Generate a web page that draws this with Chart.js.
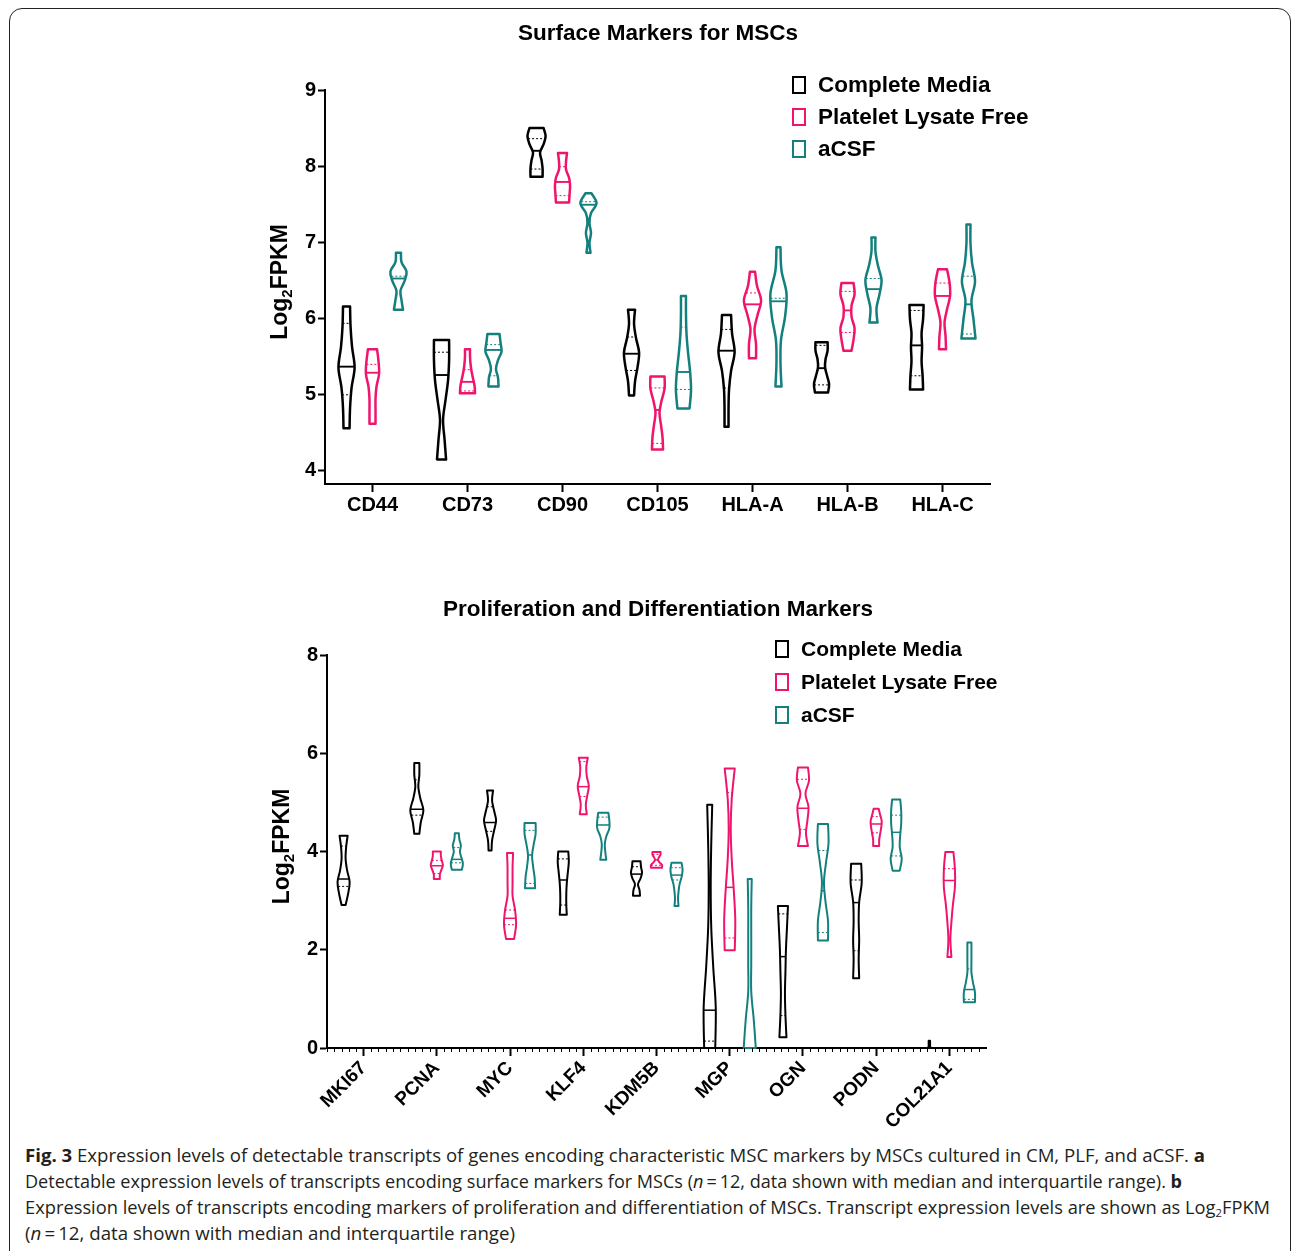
<!DOCTYPE html>
<html>
<head>
<meta charset="utf-8">
<script src="https://cdn.jsdelivr.net/npm/chart.js@4.4.1/dist/chart.umd.min.js"></script>
<style>
  html, body { margin: 0; padding: 0; background: #fff; width: 1292px; height: 1251px; overflow: hidden; }
  #frame { position: absolute; left: 9px; top: 8px; width: 1282px; height: 1300px; border: 1.5px solid #222; border-radius: 13px; box-sizing: border-box; }
  .panel { position: absolute; left: 258px; width: 800px; }
  #caption { position: absolute; left: 25px; top: 1142px; font-family: "Open Sans", "Noto Sans", sans-serif; font-size: 18px; line-height: 26px; color: #231f20; }
  #caption .ln { white-space: nowrap; }
  #caption .ln span { display: inline-block; transform-origin: 0 50%; }
  #caption sub { font-size: 11px; vertical-align: -3px; line-height: 0; }
</style>
</head>
<body>
<div id="frame"></div>
<div class="panel" style="top:12px;height:540px"><canvas id="surface"></canvas></div>
<div class="panel" style="top:580px;height:555px"><canvas id="prolif"></canvas></div>
<div id="caption">
  <div class="ln"><span data-w="1180"><b>Fig. 3</b> Expression levels of detectable transcripts of genes encoding characteristic MSC markers by MSCs cultured in CM, PLF, and aCSF. <b>a</b></span></div>
  <div class="ln"><span data-w="1157">Detectable expression levels of transcripts encoding surface markers for MSCs (<i>n</i>&#8201;=&#8201;12, data shown with median and interquartile range). <b>b</b></span></div>
  <div class="ln"><span data-w="1245">Expression levels of transcripts encoding markers of proliferation and differentiation of MSCs. Transcript expression levels are shown as Log<sub>2</sub>FPKM</span></div>
  <div class="ln"><span data-w="490">(<i>n</i>&#8201;=&#8201;12, data shown with median and interquartile range)</span></div>
</div>
<script>
// series names and colours
const seriesLabels = ["Complete Media", "Platelet Lysate Free", "aCSF"];
const seriesColors = ["#000000", "#f0146c", "#13807e"];

// ---- panel a: surface markers ----
const surfaceCategories = ["CD44", "CD73", "CD90", "CD105", "HLA-A", "HLA-B", "HLA-C"];
const surfaceTicks = [4, 5, 6, 7, 8, 9];

// [min, q1, median, q3, max] in Log2FPKM (null = quartile line not visible)
const surfaceCM = [
  [4.55, 4.99, 5.36, 5.93, 6.15],
  [4.14, null, 5.25, 5.55, 5.71],
  [7.86, 7.96, 8.20, 8.36, 8.50],
  [4.98, 5.31, 5.53, 5.75, 6.11],
  [4.57, 5.08, 5.57, 5.85, 6.04],
  [5.02, 5.12, 5.34, 5.64, 5.68],
  [5.06, 5.24, 5.64, 6.10, 6.17],
];
const surfacePLF = [
  [4.61, null, 5.28, 5.39, 5.59],
  [5.01, 5.04, 5.16, 5.32, 5.59],
  [7.52, 7.61, 7.79, 7.99, 8.17],
  [4.27, 4.35, 4.79, 5.08, 5.23],
  [5.47, null, 6.18, 6.33, 6.61],
  [5.57, 5.81, 6.10, 6.35, 6.46],
  [5.59, null, 6.29, 6.46, 6.64],
];
const surfaceACSF = [
  [6.11, null, 6.52, 6.55, 6.86],
  [5.10, 5.24, 5.58, 5.65, 5.79],
  [6.86, null, 7.49, 7.53, 7.64],
  [4.81, 5.06, 5.29, 5.88, 6.29],
  [5.10, null, 6.22, 6.26, 6.93],
  [5.94, null, 6.38, 6.52, 7.06],
  [5.73, 5.79, 6.18, 6.55, 7.23],
];
// violin density read at 7 even levels from min (first) to max (last)
const surfaceCMDensity = [
  [6, 7, 10, 16, 11, 8, 7],
  [9, 6, 3, 8, 13, 15, 15],
  [12, 12, 10, 7, 14, 18, 14],
  [5, 7, 12, 15, 9, 5, 7],
  [4, 4, 5, 9, 16, 11, 9],
  [13, 15, 11, 7, 8, 12, 12],
  [13, 12, 10, 11, 10, 13, 14],
];
const surfacePLFDensity = [
  [6, 6, 6, 8, 13, 12, 9],
  [15, 14, 11, 8, 6, 5, 5],
  [13, 14, 15, 13, 7, 7, 9],
  [11, 10, 7, 4, 8, 14, 14],
  [7, 7, 4, 10, 17, 9, 5],
  [8, 12, 14, 8, 8, 14, 12],
  [7, 6, 4, 9, 15, 14, 9],
];
const surfaceACSFDensity = [
  [9, 6, 4, 12, 16, 6, 5],
  [10, 9, 5, 9, 16, 14, 12],
  [4, 2, 5, 2, 5, 16, 6],
  [12, 15, 13, 9, 6, 5, 5],
  [6, 4, 5, 13, 16, 6, 4],
  [8, 6, 12, 16, 9, 4, 4],
  [14, 10, 6, 13, 7, 4, 4],
];

// ---- panel b: proliferation / differentiation markers ----
const prolifCategories = ["MKI67", "PCNA", "MYC", "KLF4", "KDM5B", "MGP", "OGN", "PODN", "COL21A1"];
const prolifTicks = [0, 2, 4, 6, 8];

const prolifCM = [
  [2.91, 3.29, 3.44, 4.11, 4.32],
  [4.36, 4.74, 4.86, 5.46, 5.80],
  [4.02, 4.41, 4.59, 4.91, 5.24],
  [2.71, 2.91, 3.42, 3.85, 4.00],
  [3.10, null, 3.54, 3.69, 3.80],
  [0.00, 0.14, 0.77, null, 4.95],
  [0.22, 0.66, 1.86, 2.73, 2.89],
  [1.42, 1.98, 2.96, 3.42, 3.75],
  [0.00, null, 0.03, null, 0.15],
];
const prolifPLF = [
  null,
  [3.44, 3.55, 3.71, 3.82, 4.00],
  [2.22, 2.51, 2.64, 2.81, 3.97],
  [4.76, 5.12, 5.32, 5.83, 5.91],
  [3.67, 3.72, 3.83, 3.94, 3.99],
  [1.99, 2.24, 3.27, 5.20, 5.69],
  [4.11, 4.45, 4.88, 5.47, 5.71],
  [4.11, 4.38, 4.56, 4.71, 4.87],
  [1.85, null, 3.41, 3.65, 3.99],
];
const prolifACSF = [
  null,
  [3.63, 3.77, 3.84, 4.08, 4.37],
  [3.25, 3.35, 3.93, 4.43, 4.58],
  [3.83, null, 4.54, 4.70, 4.79],
  [2.89, 3.42, 3.52, 3.67, 3.77],
  [0.00, null, 0.00, null, 3.44],
  [2.19, 2.35, 3.20, 4.02, 4.56],
  [3.61, 3.91, 4.39, 4.74, 5.06],
  [0.93, 0.99, 1.19, 1.61, 2.15],
];
const prolifCMDensity = [
  [4, 9, 12, 7, 4, 5, 8],
  [5, 8, 13, 7, 3, 5, 5],
  [3, 4, 8, 12, 8, 4, 6],
  [7, 6, 6, 7, 9, 11, 10],
  [7, 6, 3, 8, 11, 9, 8],
  [11, 12, 7, 3, 2, 3, 5],
  [7, 5, 4, 5, 6, 8, 10],
  [6, 5, 6, 5, 6, 11, 10],
  [4, 1, 1, 1, 1, 1, 1],
];
const prolifPLFDensity = [
  null,
  [6, 6, 9, 12, 10, 8, 8],
  [8, 12, 10, 5, 5, 5, 6],
  [7, 5, 8, 11, 7, 6, 9],
  [11, 11, 6, 3, 5, 8, 8],
  [10, 11, 8, 4, 2, 4, 10],
  [10, 6, 9, 11, 5, 12, 10],
  [6, 6, 8, 10, 11, 8, 5],
  [4, 2, 4, 7, 11, 11, 8],
];
const prolifACSFDensity = [
  null,
  [10, 12, 9, 6, 8, 5, 4],
  [10, 9, 6, 4, 7, 11, 11],
  [6, 4, 3, 6, 12, 12, 10],
  [4, 3, 4, 6, 10, 12, 10],
  [12, 8, 3, 3, 3, 3, 4],
  [10, 10, 5, 2, 6, 11, 10],
  [7, 11, 7, 8, 10, 10, 8],
  [11, 11, 7, 4, 4, 4, 4],
];

const FONT = '"Liberation Sans", Arial, Helvetica, sans-serif';

// smooth curve through points (Catmull-Rom as bezier)
function curveThrough(ctx, P) {
  for (let k = 0; k < P.length - 1; k++) {
    const p0 = P[k - 1] || P[k], p1 = P[k], p2 = P[k + 1], p3 = P[k + 2] || P[k + 1];
    ctx.bezierCurveTo(
      p1.x + (p2.x - p0.x) / 6, p1.y + (p2.y - p0.y) / 6,
      p2.x - (p3.x - p1.x) / 6, p2.y - (p3.y - p1.y) / 6,
      p2.x, p2.y
    );
  }
}

const violinPlugin = {
  id: "violins",
  afterDatasetsDraw(chart, args, opts) {
    const ctx = chart.ctx;
    const yScale = chart.scales.y;
    ctx.save();
    chart.data.datasets.forEach((ds, di) => {
      const meta = chart.getDatasetMeta(di);
      meta.data.forEach((bar, i) => {
        const stats = ds.stats[i];
        const dens = ds.density[i];
        if (!stats || !dens) return;
        const [lo, q1, med, q3, hi] = stats;
        const cx = bar.x;
        const full = bar.width * opts.widthFraction;
        const n = dens.length;
        const pts = dens.map((d, k) => ({
          y: yScale.getPixelForValue(lo + (hi - lo) * k / (n - 1)),
          h: Math.max(d / opts.densityMax * full / 2, 0.7),
        }));
        const halfAt = (v) => {
          const f = Math.min(Math.max((v - lo) / (hi - lo), 0), 1) * (n - 1);
          const k = Math.min(Math.floor(f), n - 2);
          return pts[k].h + (pts[k + 1].h - pts[k].h) * (f - k);
        };
        const R = pts.map((p) => ({ x: cx + p.h, y: p.y }));
        const L = pts.map((p) => ({ x: cx - p.h, y: p.y })).reverse();
        ctx.strokeStyle = ds.borderColor;
        ctx.lineJoin = "round";
        ctx.lineWidth = opts.lineWidth;
        ctx.setLineDash([]);
        ctx.beginPath();
        ctx.moveTo(L[n - 1].x, L[n - 1].y);
        ctx.lineTo(R[0].x, R[0].y);
        curveThrough(ctx, R);
        ctx.lineTo(L[0].x, L[0].y);
        curveThrough(ctx, L);
        ctx.closePath();
        ctx.stroke();

        // median (solid)
        const ym = yScale.getPixelForValue(med);
        const hm = halfAt(med);
        ctx.lineWidth = opts.lineWidth * 0.75;
        ctx.beginPath();
        ctx.moveTo(cx - hm, ym);
        ctx.lineTo(cx + hm, ym);
        ctx.stroke();

        // quartiles (dotted)
        ctx.lineWidth = 1;
        ctx.setLineDash([2, 2]);
        [q1, q3].forEach((q) => {
          if (q === null) return;
          const yq = yScale.getPixelForValue(q);
          const hq = halfAt(q);
          ctx.beginPath();
          ctx.moveTo(cx - hq, yq);
          ctx.lineTo(cx + hq, yq);
          ctx.stroke();
        });
        ctx.setLineDash([]);
      });
    });
    ctx.restore();
  },
};

// title centred on the canvas (not on the padded box)
const panelTitle = {
  id: "panelTitle",
  afterDraw(chart, args, opts) {
    const { ctx } = chart;
    ctx.save();
    ctx.font = "bold " + opts.size + "px " + FONT;
    ctx.fillStyle = "#000";
    ctx.textAlign = "center";
    ctx.textBaseline = "middle";
    ctx.fillText(opts.text, chart.width / 2, opts.y);
    ctx.restore();
  },
};

const boxLegend = {
  id: "boxLegend",
  afterDraw(chart, args, opts) {
    const { ctx, chartArea } = chart;
    ctx.save();
    ctx.font = "bold " + opts.size + "px " + FONT;
    ctx.textBaseline = "middle";
    ctx.textAlign = "left";
    chart.data.datasets.forEach((ds, i) => {
      const x = chartArea.right - opts.right;
      const y = chartArea.top + opts.top + i * opts.rowGap;
      ctx.strokeStyle = ds.borderColor;
      ctx.lineWidth = 2;
      ctx.strokeRect(x, y - 8, 12, 16);
      ctx.fillStyle = "#000";
      ctx.fillText(ds.label, x + 25, y + 1);
    });
    ctx.restore();
  },
};

const yTitle = {
  id: "yTitle",
  afterDraw(chart, args, opts) {
    const { ctx, chartArea } = chart;
    const main = "bold 23px " + FONT;
    const small = "bold 15px " + FONT;
    ctx.save();
    ctx.font = main;
    const w1 = ctx.measureText("Log").width;
    const w3 = ctx.measureText("FPKM").width;
    ctx.font = small;
    const w2 = ctx.measureText("2").width;
    const total = w1 + w2 + w3;
    ctx.translate(chartArea.left - 38, (chartArea.top + chartArea.bottom) / 2 - 5);
    ctx.rotate(-Math.PI / 2);
    ctx.fillStyle = "#000";
    ctx.textBaseline = "alphabetic";
    ctx.textAlign = "left";
    let x = -total / 2;
    ctx.font = main;
    ctx.fillText("Log", x, 0);
    x += w1;
    ctx.font = small;
    ctx.fillText("2", x, 5);
    x += w2;
    ctx.font = main;
    ctx.fillText("FPKM", x, 0);
    ctx.restore();
  },
};

// small ticks between the category ticks (panel b)
const minorTicks = {
  id: "minorTicks",
  afterDraw(chart, args, opts) {
    if (!opts.count) return;
    const { ctx } = chart;
    const xs = chart.scales.x;
    ctx.save();
    ctx.strokeStyle = "#000";
    ctx.lineWidth = 1;
    ctx.beginPath();
    for (let i = 0; i < chart.data.labels.length; i++) {
      for (let k = 0; k < opts.count; k++) {
        if (k === opts.count / 2) continue;
        const px = Math.round(xs.getPixelForValue(i - 0.5 + k / opts.count)) + 0.5;
        ctx.moveTo(px, xs.top);
        ctx.lineTo(px, xs.top + 4);
      }
    }
    ctx.stroke();
    ctx.restore();
  },
};

function makeDatasets(statsList, densList) {
  return seriesLabels.map((label, s) => ({
    label: label,
    data: statsList[s].map((st) => (st ? [st[0], st[4]] : null)),
    stats: statsList[s],
    density: densList[s],
    borderColor: seriesColors[s],
    backgroundColor: "rgba(0,0,0,0)",
    borderWidth: 0,
  }));
}

function makeChart(canvasId, cfg) {
  return new Chart(document.getElementById(canvasId), {
    type: "bar",
    data: {
      labels: cfg.labels,
      datasets: makeDatasets(cfg.stats, cfg.density),
    },
    options: {
      responsive: true,
      maintainAspectRatio: false,
      animation: false,
      events: [],
      datasets: { bar: { categoryPercentage: 0.82, barPercentage: 1 } },
      layout: { padding: { left: 0, right: cfg.padRight, top: cfg.padTop, bottom: 0 } },
      plugins: {
        legend: { display: false },
        tooltip: { enabled: false },
        title: { display: false },
        panelTitle: { text: cfg.title, y: cfg.titleY, size: 22.5 },
        violins: { widthFraction: 0.68, densityMax: cfg.densityMax, lineWidth: cfg.lineWidth },
        boxLegend: cfg.legend,
        minorTicks: { count: cfg.minor },
      },
      scales: {
        x: {
          offset: true,
          afterFit: (scale) => { scale.height = cfg.xHeight; },
          border: { display: true, color: "#000", width: 2 },
          grid: { offset: false, drawOnChartArea: false, drawTicks: true, tickLength: 8, tickWidth: 2, tickColor: "#000" },
          ticks: {
            color: "#000",
            font: { family: FONT, size: cfg.xFont, weight: "bold" },
            padding: 1,
            minRotation: cfg.rotation,
            maxRotation: cfg.rotation,
            autoSkip: false,
          },
        },
        y: {
          min: cfg.yMin,
          max: cfg.yMax,
          afterFit: (scale) => { scale.width = cfg.yWidth; },
          afterBuildTicks: (axis) => { axis.ticks = cfg.yTicks.map((v) => ({ value: v })); },
          border: { display: true, color: "#000", width: 2 },
          grid: { drawOnChartArea: false, drawTicks: true, tickLength: 7, tickWidth: 2, tickColor: "#000" },
          ticks: {
            color: "#000",
            font: { family: FONT, size: 20, weight: "bold" },
            padding: 2,
          },
        },
      },
    },
    plugins: [violinPlugin, panelTitle, boxLegend, yTitle, minorTicks],
  });
}

makeChart("surface", {
  title: "Surface Markers for MSCs",
  titleY: 22,
  padTop: 78,
  labels: surfaceCategories,
  stats: [surfaceCM, surfacePLF, surfaceACSF],
  density: [surfaceCMDensity, surfacePLFDensity, surfaceACSFDensity],
  yTicks: surfaceTicks,
  yMin: 3.816,
  yMax: 9,
  yWidth: 67,
  xHeight: 68,
  padRight: 68,
  xFont: 20,
  rotation: 0,
  densityMax: 17.5,
  lineWidth: 2.5,
  minor: 0,
  legend: { right: 197, top: -5, rowGap: 32, size: 22.5 },
});

makeChart("prolif", {
  title: "Proliferation and Differentiation Markers",
  titleY: 30,
  padTop: 75,
  labels: prolifCategories,
  stats: [prolifCM, prolifPLF, prolifACSF],
  density: [prolifCMDensity, prolifPLFDensity, prolifACSFDensity],
  yTicks: prolifTicks,
  yMin: 0,
  yMax: 8,
  yWidth: 69,
  xHeight: 87,
  padRight: 72,
  xFont: 19,
  rotation: 45,
  densityMax: 13.5,
  lineWidth: 2,
  minor: 10,
  legend: { right: 210, top: -6, rowGap: 33, size: 21 },
});

// stretch each caption line to the width it has in the figure
document.querySelectorAll("#caption .ln span").forEach((el) => {
  const target = parseFloat(el.dataset.w);
  const w = el.getBoundingClientRect().width;
  el.style.transform = "scaleX(" + (target / w).toFixed(4) + ")";
});
</script>
</body>
</html>
